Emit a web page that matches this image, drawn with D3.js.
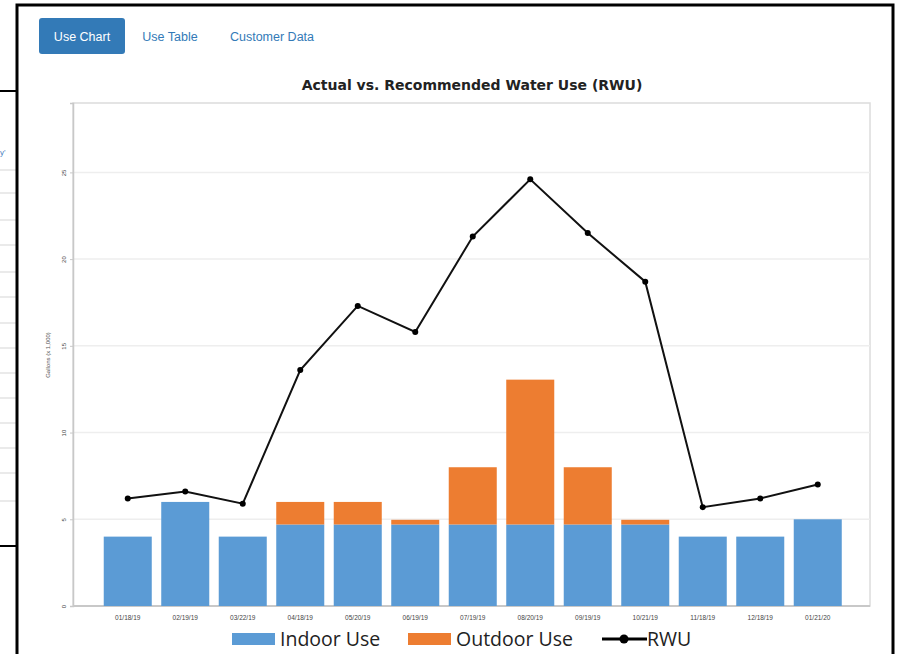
<!DOCTYPE html>
<html>
<head>
<meta charset="utf-8">
<script src="https://cdn.jsdelivr.net/npm/d3@7"></script>
<style>
  html, body { margin: 0; padding: 0; background: #fff; }
  svg { display: block; font-family: "Liberation Sans", Arial, sans-serif; }
</style>
</head>
<body>
<svg id="chart" width="897" height="654"></svg>
<script>
// data (gallons x 1,000)
const dates = ['01/18/19', '02/19/19', '03/22/19', '04/18/19', '05/20/19', '06/19/19', '07/19/19',
  '08/20/19', '09/19/19', '10/21/19', '11/18/19', '12/18/19', '01/21/20'];
const indoorUse = [4.0, 6.0, 4.0, 4.7, 4.7, 4.7, 4.7, 4.7, 4.7, 4.7, 4.0, 4.0, 5.0];
const outdoorUse = [0, 0, 0, 1.3, 1.3, 0.27, 3.3, 8.35, 3.3, 0.27, 0, 0, 0];
const rwu = [6.2, 6.6, 5.9, 13.6, 17.3, 15.8, 21.3, 24.6, 21.5, 18.7, 5.7, 6.2, 7.0];
const yTicks = [0, 5, 10, 15, 20, 25];
const tabs = ['Use Chart', 'Use Table', 'Customer Data'];
const legendItems = ['Indoor Use', 'Outdoor Use', 'RWU'];

const blue = '#5b9bd5';
const orange = '#ed7d31';

const svg = d3.select('#chart');

// page behind the popup: table fragment on the left
const back = svg.append('g');
const rowLines = [170, 193, 220, 245, 272, 297, 323, 348, 373, 398, 423, 448, 473, 501];
back.selectAll('line.row')
  .data(rowLines)
  .join('line')
  .attr('x1', 0).attr('x2', 17)
  .attr('y1', d => d).attr('y2', d => d)
  .attr('stroke', '#e3e3e3').attr('stroke-width', 1.5);
back.append('line').attr('x1', 0).attr('x2', 17).attr('y1', 91).attr('y2', 91)
  .attr('stroke', '#000').attr('stroke-width', 2);
back.append('line').attr('x1', 0).attr('x2', 17).attr('y1', 546).attr('y2', 546)
  .attr('stroke', '#000').attr('stroke-width', 2);
back.append('text').attr('x', 0).attr('y', 155).attr('font-size', 8).attr('fill', '#4a7fc0').text('y\'');

// popup box
svg.append('rect')
  .attr('x', 17).attr('y', 5).attr('width', 876).attr('height', 700)
  .attr('fill', '#fff').attr('stroke', '#000').attr('stroke-width', 3);

// tabs
const tabG = svg.append('g');
tabG.append('rect')
  .attr('x', 39).attr('y', 18).attr('width', 86).attr('height', 36).attr('rx', 3)
  .attr('fill', '#337ab7');
const tabX = [82, 170, 272];
tabG.selectAll('text')
  .data(tabs)
  .join('text')
  .attr('x', (d, i) => tabX[i])
  .attr('y', 41)
  .attr('text-anchor', 'middle')
  .attr('font-size', 12.5)
  .attr('fill', (d, i) => i === 0 ? '#fff' : '#337ab7')
  .text(d => d);

// title
svg.append('text')
  .attr('x', 472).attr('y', 90)
  .attr('text-anchor', 'middle')
  .attr('font-family', '"DejaVu Sans", sans-serif')
  .attr('font-size', 14).attr('font-weight', 'bold')
  .attr('fill', '#222')
  .text('Actual vs. Recommended Water Use (RWU)');

// plot area
const plotL = 73, plotR = 870, plotT = 103, plotB = 606;
svg.append('rect')
  .attr('x', plotL).attr('y', plotT).attr('width', plotR - plotL).attr('height', plotB - plotT)
  .attr('fill', 'none').attr('stroke', '#dcdcdc').attr('stroke-width', 1.5);

const x = d3.scaleBand().domain(dates).range([99, 846.5]).paddingInner(0.165).paddingOuter(0.0825);
const y = d3.scaleLinear().domain([0, 29]).range([plotB, plotT]);

// gridlines
svg.append('g')
  .selectAll('line')
  .data(yTicks.slice(1))
  .join('line')
  .attr('x1', plotL).attr('x2', plotR)
  .attr('y1', d => y(d)).attr('y2', d => y(d))
  .attr('stroke', '#eeeeee').attr('stroke-width', 1.5);

// y axis
const yAxis = svg.append('g')
  .attr('transform', `translate(${plotL},0)`)
  .call(d3.axisLeft(y).tickValues(yTicks).tickSize(3).tickPadding(8));
yAxis.select('.domain').attr('stroke', '#c8c8c8').attr('stroke-width', 1.5);
yAxis.selectAll('.tick line').attr('stroke', '#c8c8c8');
yAxis.selectAll('.tick text')
  .attr('font-size', 6).attr('fill', '#444')
  .attr('text-anchor', 'middle')
  .attr('transform', 'rotate(-90) translate(0,-9)')
  .attr('x', 0).attr('dy', '0.32em');

svg.append('text')
  .attr('transform', 'translate(50,355) rotate(-90)')
  .attr('text-anchor', 'middle')
  .attr('font-size', 6).attr('fill', '#555')
  .text('Gallons (x 1,000)');

// x axis
const xAxis = svg.append('g')
  .attr('transform', `translate(0,${plotB})`)
  .call(d3.axisBottom(x).tickSize(0).tickPadding(9));
xAxis.select('.domain').remove();
xAxis.selectAll('.tick text').attr('font-size', 6.5).attr('fill', '#444');
svg.append('line')
  .attr('x1', plotL).attr('x2', plotR).attr('y1', plotB).attr('y2', plotB)
  .attr('stroke', '#c8c8c8').attr('stroke-width', 2);

// stacked bars
const bars = svg.append('g');
bars.selectAll('rect.indoor')
  .data(dates)
  .join('rect')
  .attr('class', 'indoor')
  .attr('x', d => x(d))
  .attr('width', x.bandwidth())
  .attr('y', (d, i) => y(indoorUse[i]))
  .attr('height', (d, i) => y(0) - y(indoorUse[i]))
  .attr('fill', blue);
bars.selectAll('rect.outdoor')
  .data(dates.filter((d, i) => outdoorUse[i] > 0))
  .join('rect')
  .attr('class', 'outdoor')
  .attr('x', d => x(d))
  .attr('width', x.bandwidth())
  .attr('y', d => { const i = dates.indexOf(d); return y(indoorUse[i] + outdoorUse[i]); })
  .attr('height', d => { const i = dates.indexOf(d); return y(indoorUse[i]) - y(indoorUse[i] + outdoorUse[i]); })
  .attr('fill', orange);

// RWU line
const line = d3.line()
  .x((d, i) => x(dates[i]) + x.bandwidth() / 2)
  .y(d => y(d));
svg.append('path')
  .datum(rwu)
  .attr('fill', 'none')
  .attr('stroke', '#111')
  .attr('stroke-width', 2)
  .attr('d', line);
svg.append('g')
  .selectAll('circle')
  .data(rwu)
  .join('circle')
  .attr('cx', (d, i) => x(dates[i]) + x.bandwidth() / 2)
  .attr('cy', d => y(d))
  .attr('r', 3)
  .attr('fill', '#000');

// legend
const legend = svg.append('g').attr('font-family', '"Open Sans", sans-serif').attr('font-size', 19.5).attr('fill', '#222');
const swatchX = [232, 408];
legend.selectAll('rect')
  .data(legendItems.slice(0, 2))
  .join('rect')
  .attr('x', (d, i) => swatchX[i]).attr('y', 633)
  .attr('width', 43).attr('height', 12)
  .attr('fill', (d, i) => i === 0 ? blue : orange);
legend.append('line')
  .attr('x1', 602).attr('x2', 647).attr('y1', 639).attr('y2', 639)
  .attr('stroke', '#000').attr('stroke-width', 3);
legend.append('circle').attr('cx', 624).attr('cy', 639).attr('r', 4.5).attr('fill', '#000');
const textX = [280, 456, 647];
legend.selectAll('text')
  .data(legendItems)
  .join('text')
  .attr('x', (d, i) => textX[i])
  .attr('y', 646)
  .text(d => d);
</script>
</body>
</html>
